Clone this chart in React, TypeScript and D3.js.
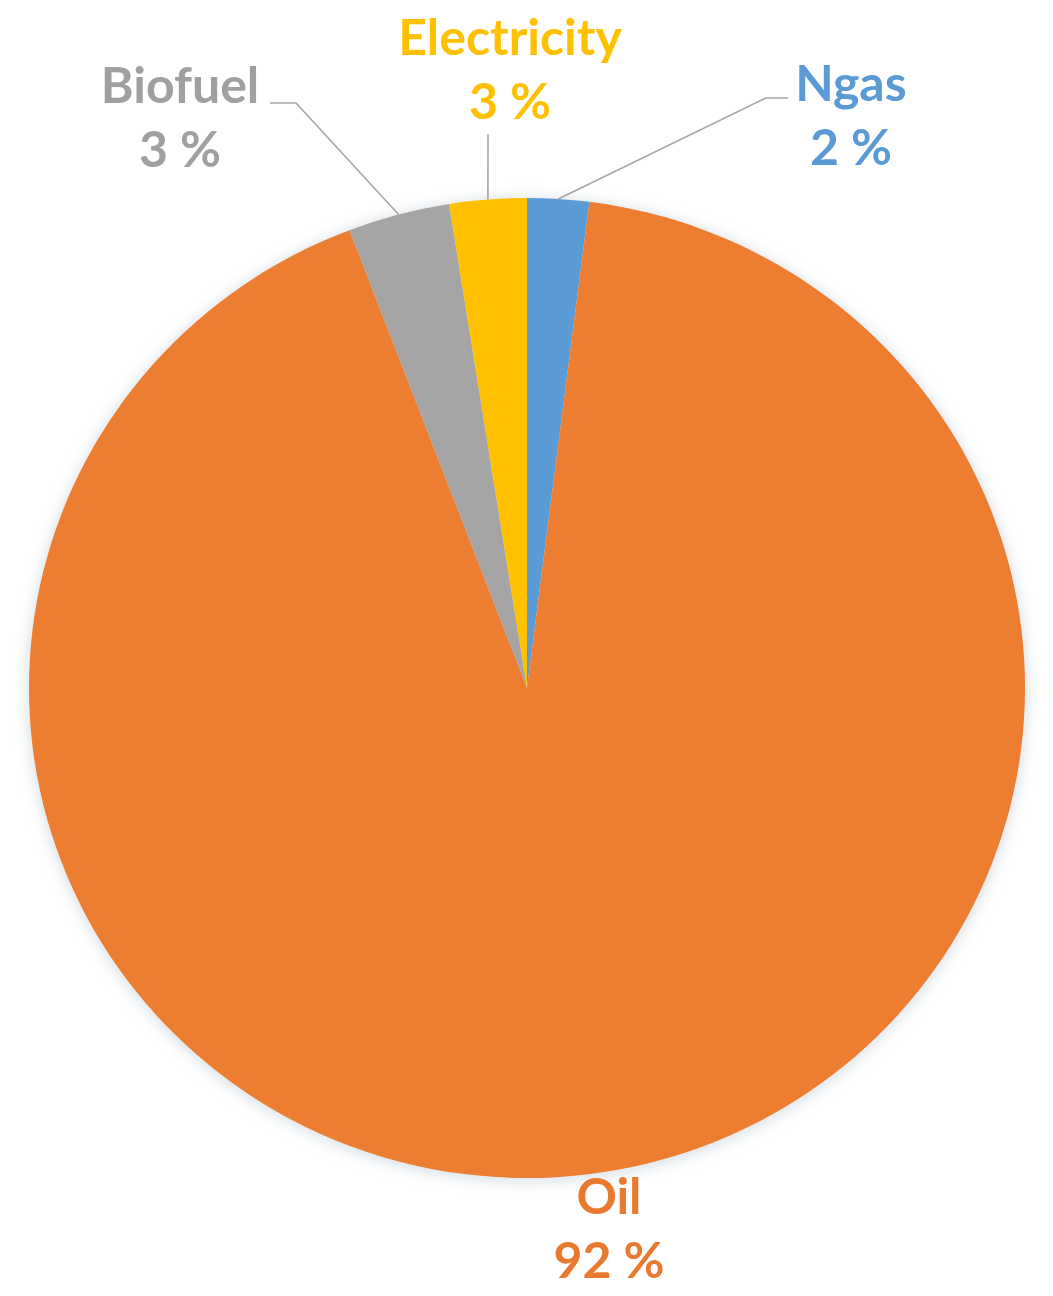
import React from "react";
import * as d3 from "d3";

// slices clockwise from 12 o'clock, as in the source
const fuels = ["Ngas", "Oil", "Biofuel", "Electricity"];
const shares = [2.0, 92.2, 3.3, 2.5];
const colors = ["#5B9BD5", "#ED7D31", "#A5A5A5", "#FFC000"];
const labelColors = ["#5B9BD5", "#E8792F", "#A0A0A0", "#FFC000"];

const W = 1053;
const H = 1296;
const cx = 527;
const cy = 688;
const rx = 498;
const ry = 490;

// label anchor (text centre, first-line baseline) and knee of leader line
const labelLayout: Record<string, { x: number; y: number; knee?: [number, number][] }> = {
  Ngas: { x: 851, y: 101, knee: [[766, 98], [788, 98]] },
  Oil: { x: 609, y: 1214 },
  Biofuel: { x: 180, y: 103, knee: [[296, 103], [270, 103]] },
  Electricity: { x: 510, y: 55, knee: [[488, 134]] },
};

export default function App() {
  const data = fuels.map((name, i) => ({ name, value: shares[i], color: colors[i], labelColor: labelColors[i] }));
  const arcs = d3
    .pie<any>()
    .sort(null)
    .value((d) => d.value)
    .startAngle(0)
    .endAngle(2 * Math.PI)(data);
  const arc = d3.arc<any>().innerRadius(0).outerRadius(rx);
  const line = d3.line();

  const edge = (a: number): [number, number] => [cx + rx * Math.sin(a), cy - ry * Math.cos(a)];

  return (
    <svg width={W} height={H} style={{ position: "absolute", left: 0, top: 0, background: "#fff" }}>
      <defs>
        <filter id="halo" x="-10%" y="-10%" width="120%" height="120%">
          <feGaussianBlur stdDeviation="6" />
        </filter>
      </defs>
      <ellipse cx={cx} cy={cy + 2} rx={rx + 4} ry={ry + 4} fill="#c9d3dc" opacity={0.55} filter="url(#halo)" />
      <g transform={`translate(${cx},${cy}) scale(1,${ry / rx})`}>
        {arcs.map((a) => (
          <path key={a.data.name} d={arc(a) as string} fill={a.data.color} />
        ))}
      </g>
      {arcs.map((a) => {
        const lay = labelLayout[a.data.name];
        const mid = (a.startAngle + a.endAngle) / 2;
        const pts = lay.knee ? [edge(mid), ...lay.knee] : null;
        return (
          <g key={a.data.name}>
            {pts && <path d={line(pts) as string} fill="none" stroke="#A6A6A6" strokeWidth={1.6} />}
            <text
              x={lay.x}
              y={lay.y}
              textAnchor="middle"
              fontFamily="Lato, 'Open Sans', sans-serif"
              fontWeight={700}
              fontSize={50}
              fill={a.data.labelColor}
            >
              <tspan x={lay.x}>{a.data.name}</tspan>
              <tspan x={lay.x} dy={64}>{`${Math.round(a.data.value)} %`}</tspan>
            </text>
          </g>
        );
      })}
    </svg>
  );
}
